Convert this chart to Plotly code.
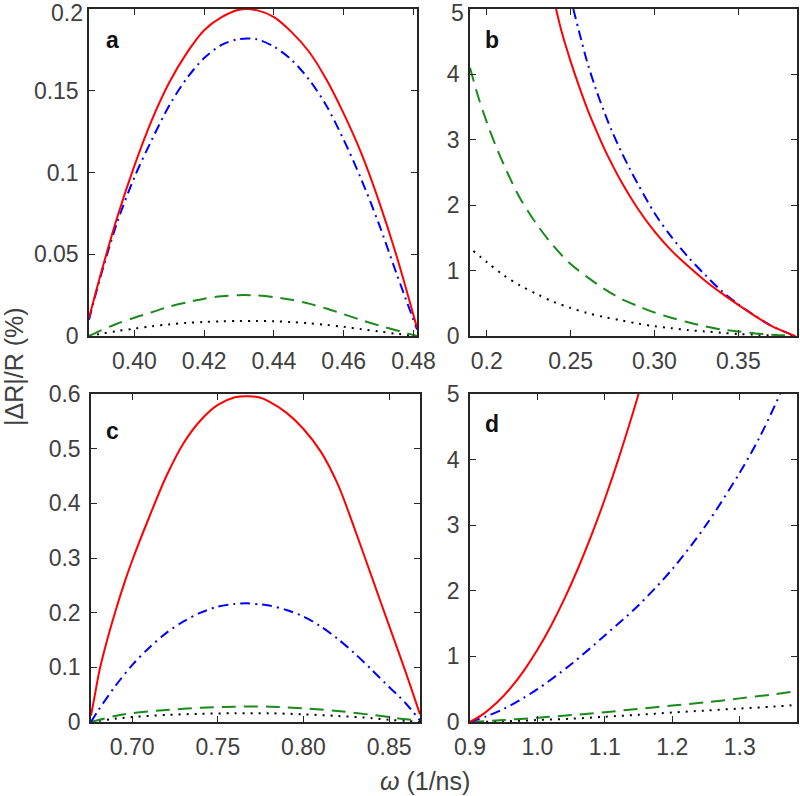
import plotly.graph_objects as go

# ---------------- data ----------------
# panel a
a_x = [0.387, 0.390, 0.395, 0.400, 0.405, 0.410, 0.415, 0.420, 0.425, 0.430, 0.435,
       0.440, 0.445, 0.450, 0.455, 0.460, 0.465, 0.470, 0.475, 0.481]
a_red = [0.011, 0.035, 0.072, 0.104, 0.132, 0.155, 0.173, 0.187, 0.195, 0.1996, 0.1993,
         0.195, 0.186, 0.174, 0.157, 0.136, 0.112, 0.083, 0.050, 0.005]
a_blue = [0.010, 0.034, 0.069, 0.097, 0.120, 0.141, 0.1575, 0.170, 0.178, 0.1816, 0.1815,
          0.177, 0.169, 0.157, 0.141, 0.120, 0.096, 0.069, 0.039, 0.004]
a_green = [0.000, 0.003, 0.0075, 0.0112, 0.0145, 0.018, 0.0205, 0.0228, 0.0243, 0.025, 0.0248,
           0.0238, 0.0222, 0.0198, 0.0168, 0.0133, 0.0098, 0.0065, 0.0035, 0.000]
a_black = [0.000, 0.0012, 0.003, 0.0045, 0.006, 0.0071, 0.008, 0.0086, 0.009, 0.0092, 0.0092,
           0.009, 0.0085, 0.0078, 0.0068, 0.0056, 0.0042, 0.0028, 0.0014, 0.000]

# panel b
b_red_x = [0.2413, 0.245, 0.25, 0.255, 0.26, 0.265, 0.27, 0.275, 0.28, 0.29, 0.30,
           0.31, 0.32, 0.33, 0.34, 0.35, 0.36, 0.37, 0.38, 0.384]
b_red = [5.0, 4.62, 4.2, 3.82, 3.47, 3.16, 2.87, 2.61, 2.37, 1.95, 1.60,
         1.31, 1.07, 0.85, 0.655, 0.475, 0.305, 0.15, 0.04, 0.0]
b_blue_x = [0.2516, 0.255, 0.26, 0.265, 0.27, 0.275, 0.28, 0.285, 0.29, 0.30, 0.31,
            0.32, 0.33, 0.34, 0.35, 0.36, 0.37, 0.38, 0.384]
b_blue = [5.0, 4.66, 4.18, 3.78, 3.43, 3.11, 2.83, 2.57, 2.33, 1.88, 1.52,
          1.21, 0.94, 0.69, 0.485, 0.31, 0.15, 0.04, 0.0]
b_green_x = [0.19, 0.195, 0.20, 0.205, 0.21, 0.215, 0.22, 0.23, 0.24, 0.25, 0.26, 0.27,
             0.28, 0.29, 0.30, 0.31, 0.32, 0.33, 0.34, 0.35, 0.36, 0.37, 0.384]
b_green = [4.1, 3.65, 3.27, 2.93, 2.63, 2.35, 2.1, 1.7, 1.37, 1.1, 0.9, 0.72,
           0.57, 0.46, 0.36, 0.28, 0.21, 0.15, 0.1, 0.07, 0.04, 0.02, 0.0]
b_black_x = [0.192, 0.20, 0.21, 0.22, 0.23, 0.24, 0.25, 0.26, 0.27, 0.28, 0.29, 0.30,
             0.31, 0.32, 0.33, 0.34, 0.35, 0.36, 0.37, 0.384]
b_black = [1.3, 1.13, 0.93, 0.77, 0.64, 0.52, 0.43, 0.35, 0.29, 0.24, 0.19, 0.15,
           0.12, 0.09, 0.07, 0.05, 0.03, 0.02, 0.01, 0.0]

# panel c
c_red_x = [0.676, 0.678, 0.681, 0.685, 0.69, 0.695, 0.70, 0.71, 0.72, 0.73, 0.74, 0.75,
           0.76, 0.768, 0.775, 0.78, 0.79, 0.80, 0.81, 0.82, 0.83, 0.84, 0.85, 0.86, 0.868]
c_red = [0.012, 0.045, 0.095, 0.145, 0.2, 0.25, 0.295, 0.375, 0.45, 0.51, 0.552, 0.58,
         0.594, 0.596, 0.593, 0.586, 0.566, 0.536, 0.495, 0.435, 0.352, 0.264, 0.176, 0.088, 0.014]
c_blue_x = [0.676, 0.68, 0.69, 0.70, 0.71, 0.72, 0.73, 0.74, 0.75, 0.76, 0.767, 0.775,
            0.78, 0.79, 0.80, 0.81, 0.82, 0.83, 0.84, 0.85, 0.856, 0.86, 0.868]
c_blue = [0.0, 0.02, 0.065, 0.104, 0.136, 0.163, 0.184, 0.200, 0.211, 0.216, 0.217, 0.215,
          0.213, 0.205, 0.193, 0.175, 0.152, 0.125, 0.095, 0.064, 0.046, 0.033, 0.003]
c_gb_x = [0.676, 0.69, 0.70, 0.72, 0.74, 0.76, 0.78, 0.80, 0.82, 0.84, 0.85, 0.86, 0.868]
c_green = [0.0, 0.011, 0.016, 0.022, 0.026, 0.028, 0.028, 0.025, 0.02, 0.013, 0.009, 0.005, 0.003]
c_black = [0.0, 0.006, 0.009, 0.013, 0.015, 0.016, 0.016, 0.014, 0.011, 0.007, 0.004, 0.002, 0.0]

# panel d
d_red_x = [0.90, 0.92, 0.94, 0.96, 0.98, 1.00, 1.02, 1.04, 1.06, 1.08, 1.10, 1.12, 1.14, 1.15]
d_red = [0.0, 0.124, 0.296, 0.516, 0.784, 1.10, 1.464, 1.876, 2.336, 2.844, 3.40, 4.004, 4.656, 5.0]
d_blue_x = [0.90, 0.925, 0.95, 0.975, 1.00, 1.05, 1.10, 1.15, 1.20, 1.25, 1.30, 1.33, 1.36]
d_blue = [0.0, 0.09, 0.20, 0.34, 0.50, 0.88, 1.32, 1.78, 2.33, 3.0, 3.8, 4.35, 5.0]
d_gb_x = [0.90, 0.95, 1.00, 1.05, 1.10, 1.15, 1.20, 1.25, 1.30, 1.35, 1.385]
d_green = [0.0, 0.03, 0.065, 0.105, 0.15, 0.2, 0.25, 0.3, 0.36, 0.42, 0.47]
d_black = [0.0, 0.01, 0.03, 0.05, 0.08, 0.11, 0.145, 0.175, 0.205, 0.235, 0.26]

# tick labels
a_xt = [0.40, 0.42, 0.44, 0.46, 0.48]
a_xl = ["0.40", "0.42", "0.44", "0.46", "0.48"]
a_yt = [0, 0.05, 0.1, 0.15, 0.2]
a_yl = ["0", "0.05", "0.1", "0.15", "0.2"]
b_xt = [0.2, 0.25, 0.30, 0.35]
b_xl = ["0.2", "0.25", "0.30", "0.35"]
b_yt = [0, 1, 2, 3, 4, 5]
b_yl = ["0", "1", "2", "3", "4", "5"]
c_xt = [0.70, 0.75, 0.80, 0.85]
c_xl = ["0.70", "0.75", "0.80", "0.85"]
c_yt = [0, 0.1, 0.2, 0.3, 0.4, 0.5, 0.6]
c_yl = ["0", "0.1", "0.2", "0.3", "0.4", "0.5", "0.6"]
d_xt = [0.9, 1.0, 1.1, 1.2, 1.3]
d_xl = ["0.9", "1.0", "1.1", "1.2", "1.3"]
d_yt = [0, 1, 2, 3, 4, 5]
d_yl = ["0", "1", "2", "3", "4", "5"]

panel_letters = ["a", "b", "c", "d"]

# ---------------- styling ----------------
W, H = 800, 796
RED = "#ff0000"
BLUE = "#0000ff"
GREEN = "#1a8a1a"
BLACK = "#000000"
FONT = "Liberation Sans, Arial, Helvetica, sans-serif"
TXT = "#404040"
TICKSIZE = 23

def px_dom_x(l, r):
    return [l / W, r / W]

def px_dom_y(t, b):
    return [1 - b / H, 1 - t / H]

fig = go.Figure()

def add(xs, ys, color, dash, ax):
    fig.add_trace(go.Scatter(x=xs, y=ys, mode="lines", xaxis="x" + ax, yaxis="y" + ax,
                             line=dict(color=color, width=2, dash=dash, shape="spline", smoothing=0.9),
                             showlegend=False, hoverinfo="skip"))

SOLID = "solid"
DASHDOT = "10px,5px,2px,5px"
DASH = "14px,8px"
DOT = "2px,6px"

# a
add(a_x, a_black, BLACK, DOT, "")
add(a_x, a_green, GREEN, DASH, "")
add(a_x, a_blue, BLUE, DASHDOT, "")
add(a_x, a_red, RED, SOLID, "")
# b
add(b_black_x, b_black, BLACK, DOT, "2")
add(b_green_x, b_green, GREEN, DASH, "2")
add(b_blue_x, b_blue, BLUE, DASHDOT, "2")
add(b_red_x, b_red, RED, SOLID, "2")
# c
add(c_gb_x, c_black, BLACK, DOT, "3")
add(c_gb_x, c_green, GREEN, DASH, "3")
add(c_blue_x, c_blue, BLUE, DASHDOT, "3")
add(c_red_x, c_red, RED, SOLID, "3")
# d
add(d_gb_x, d_black, BLACK, DOT, "4")
add(d_gb_x, d_green, GREEN, DASH, "4")
add(d_blue_x, d_blue, BLUE, DASHDOT, "4")
add(d_red_x, d_red, RED, SOLID, "4")

def axis(dom, rng, tv, tt, anchor, standoff):
    return dict(domain=dom, range=rng, tickvals=tv, ticktext=tt, anchor=anchor,
                automargin=False, ticklabelstandoff=standoff, ticklabeloverflow="allow",
                showline=True, linecolor="#262626", linewidth=1.5, mirror="ticks",
                ticks="inside", ticklen=6, tickwidth=1.2, tickcolor="#262626",
                showgrid=False, zeroline=False,
                tickfont=dict(family=FONT, size=TICKSIZE, color=TXT))

xa = px_dom_x(89, 417)
xb = px_dom_x(470, 797)
xc = px_dom_x(91, 420)
yt = px_dom_y(9, 336)
yb = px_dom_y(394, 722)

XS, YS = 4, 4
# the topmost y labels of the upper panels sit at the page edge: drawn as annotations
# just below so that they are not clipped
fig.update_layout(
    width=W, height=H,
    margin=dict(l=0, r=0, t=0, b=0),
    paper_bgcolor="white", plot_bgcolor="white",
    xaxis=axis(xa, [0.387, 0.481], a_xt, a_xl, "y", XS),
    yaxis=axis(yt, [0, 0.2], a_yt[:-1], a_yl[:-1], "x", YS),
    xaxis2=axis(xb, [0.19, 0.385], b_xt, b_xl, "y2", XS),
    yaxis2=axis(yt, [0, 5], b_yt[:-1], b_yl[:-1], "x2", YS),
    xaxis3=axis(xc, [0.676, 0.868], c_xt, c_xl, "y3", XS),
    yaxis3=axis(yb, [0, 0.6], c_yt, c_yl, "x3", YS),
    xaxis4=axis(xb, [0.9, 1.385], d_xt, d_xl, "y4", XS),
    yaxis4=axis(yb, [0, 5], d_yt, d_yl, "x4", YS),
)
for xr, yr, yv, lab in [("x", "y", a_yt[-1], a_yl[-1]), ("x2", "y2", b_yt[-1], b_yl[-1])]:
    fig.add_annotation(x=0, xref=xr + " domain", y=yv, yref=yr, text=lab, showarrow=False,
                       xanchor="right", yanchor="middle", xshift=-YS - 1, yshift=-4,
                       borderpad=0, font=dict(family=FONT, size=TICKSIZE, color=TXT))

letter_pos = [(113, 40), (492, 40), (113, 431), (492, 424)]
for lab, (px, py) in zip(panel_letters, letter_pos):
    fig.add_annotation(x=px / W, y=1 - py / H, xref="paper", yref="paper", text="<b>%s</b>" % lab,
                       showarrow=False, font=dict(family=FONT, size=23, color="#111111"),
                       xanchor="center", yanchor="middle")

fig.add_annotation(x=14 / W, y=1 - 367 / H, xref="paper", yref="paper", text="|\u0394R|/R (%)",
                   textangle=-90, showarrow=False, font=dict(family=FONT, size=25, color=TXT),
                   xanchor="center", yanchor="middle")
fig.add_annotation(x=425 / W, y=1 - 781 / H, xref="paper", yref="paper", text="<i>\u03c9</i> (1/ns)",
                   showarrow=False, font=dict(family=FONT, size=25, color=TXT),
                   xanchor="center", yanchor="middle")

fig.write_html("out.html", config={"displayModeBar": False},
               post_script="document.body.style.margin='0';document.body.style.overflow='hidden';")
